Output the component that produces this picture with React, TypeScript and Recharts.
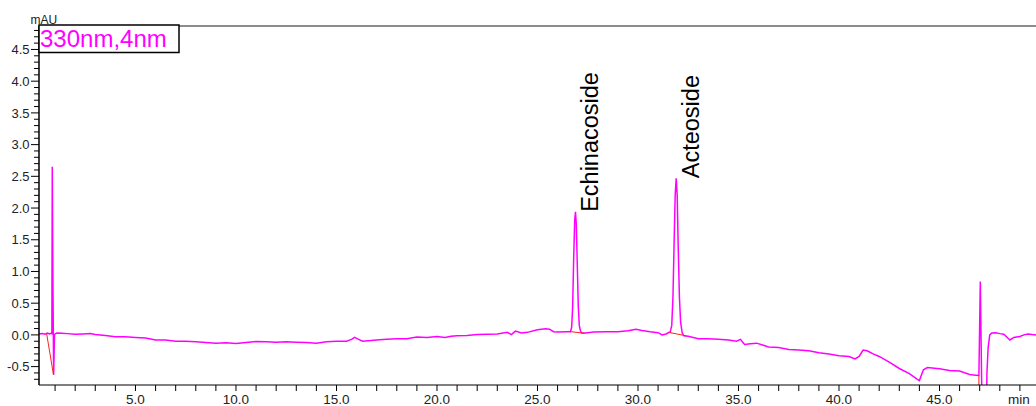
import React from 'react'
import { ComposedChart, Line, Scatter, XAxis, YAxis } from 'recharts'

// chromatogram trace, [time (min), signal (mAU)]
const baselineStart: [number, number][] = [
  [0.2, 0.015], [0.35, 0.02], [0.5, 0.01], [0.62, 0.03], [0.72, 0.015], [0.8, 0.025], [0.84, 0.02]
]
const injectionSpike: [number, number][] = [
  [0.86, 2.65], [0.89, 0.9], [0.93, -0.63], [0.97, 0.0], [1.02, 0.02]
]
const baselineEarly: [number, number][] = [
  [1.1, 0.03], [1.35, 0.025], [1.6, 0.02], [2.0, 0.01], [2.4, 0.015], [2.76, 0.02], [3.0, 0.005],
  [3.5, -0.01], [4.0, -0.03], [4.5, -0.03], [5.0, -0.04], [5.5, -0.05], [6.0, -0.08], [6.5, -0.08],
  [7.0, -0.1], [7.5, -0.1], [8.0, -0.11], [8.5, -0.12], [9.0, -0.13], [9.5, -0.125], [10.0, -0.135],
  [10.5, -0.12], [11.0, -0.105], [11.5, -0.11], [12.0, -0.115], [12.5, -0.11], [13.0, -0.115],
  [13.5, -0.12], [14.0, -0.13], [14.5, -0.11], [15.0, -0.1], [15.5, -0.1], [15.75, -0.07], [15.9, -0.04],
  [16.1, -0.07], [16.3, -0.1], [16.7, -0.09], [17.0, -0.08], [17.5, -0.07], [18.0, -0.06], [18.5, -0.06],
  [19.0, -0.035], [19.5, -0.04], [20.0, -0.025], [20.4, -0.04], [20.7, -0.02], [21.0, -0.015],
  [21.5, -0.01], [22.0, 0.005], [22.5, 0.01], [23.0, 0.015], [23.5, 0.04], [23.7, 0.005], [23.9, 0.06],
  [24.2, 0.03], [24.5, 0.04], [25.0, 0.08], [25.4, 0.095], [25.6, 0.09], [25.8, 0.05], [26.0, 0.045],
  [26.4, 0.05], [26.6, 0.05]
]
const echinacosidePeak: [number, number][] = [
  [26.64, 0.05], [26.7, 0.12], [26.75, 0.45], [26.8, 1.2], [26.85, 1.8], [26.89, 1.94], [26.93, 1.75],
  [26.98, 1.1], [27.03, 0.45], [27.08, 0.15], [27.14, 0.06], [27.2, 0.03]
]
const baselineMiddle: [number, number][] = [
  [27.4, 0.03], [27.8, 0.045], [28.4, 0.05], [29.0, 0.05], [29.5, 0.065], [29.9, 0.09], [30.2, 0.07],
  [30.6, 0.05], [31.0, 0.035], [31.2, 0.0], [31.4, 0.015], [31.55, 0.04]
]
const acteosidePeak: [number, number][] = [
  [31.6, 0.04], [31.68, 0.15], [31.74, 0.6], [31.8, 1.5], [31.85, 2.2], [31.9, 2.47], [31.95, 2.2],
  [32.0, 1.4], [32.06, 0.6], [32.12, 0.2], [32.2, 0.03], [32.28, -0.015]
]
const baselineLate: [number, number][] = [
  [32.5, -0.02], [33.0, -0.06], [33.5, -0.06], [34.0, -0.07], [34.5, -0.08], [34.9, -0.1], [35.1, -0.07],
  [35.3, -0.15], [35.6, -0.14], [35.9, -0.13], [36.2, -0.16], [36.5, -0.19], [37.0, -0.2], [37.5, -0.23],
  [38.0, -0.24], [38.5, -0.25], [39.0, -0.28], [39.5, -0.3], [40.0, -0.33], [40.5, -0.34], [40.8, -0.38],
  [41.0, -0.34], [41.2, -0.24], [41.4, -0.25], [41.7, -0.3], [42.0, -0.34], [42.5, -0.43], [43.0, -0.53],
  [43.5, -0.61], [43.9, -0.7], [44.0, -0.72], [44.2, -0.55], [44.4, -0.515], [45.0, -0.535],
  [45.5, -0.56], [46.0, -0.57], [46.5, -0.625], [46.8, -0.635], [46.96, -0.64]
]
const gradientSpike: [number, number][] = [
  [47.03, 0.84], [47.1, -0.8], [47.15, -1.5], [47.32, -1.5], [47.36, -0.6], [47.42, -0.2], [47.5, 0.0],
  [47.6, 0.03]
]
const baselineEnd: [number, number][] = [
  [47.8, 0.035], [48.0, 0.02], [48.2, 0.01], [48.4, -0.05], [48.5, -0.08], [48.7, -0.04], [49.0, -0.025],
  [49.2, 0.0], [49.4, 0.015], [49.6, 0.005], [49.8, 0.0], [50.0, 0.01]
]

// integration baselines (red)
const redInjection: [number, number][] = [[0.58, 0.02], [0.92, -0.63]]
const redEchinacoside: [number, number][] = [[26.55, 0.055], [27.35, 0.025]]
const redActeoside: [number, number][] = [[31.53, 0.04], [32.4, -0.015]]
const redGradient: [number, number][] = [[46.85, -0.64], [46.96, -0.64], [46.96, -0.8]]

const peakNames = ['Echinacoside', 'Acteoside']
const peakTimes = [26.89, 31.9]
const peakHeights = [1.94, 2.47]

const xTicks = Array.from({ length: 49 }, (_, i) => i + 1)
const yTicks = Array.from({ length: 56 }, (_, i) => Math.round((-0.7 + i * 0.1) * 10) / 10)

const toPts = (arr: [number, number][]) => arr.map(([t, v]) => ({ t, v }))

const trace = toPts([
  ...baselineStart, ...injectionSpike, ...baselineEarly, ...echinacosidePeak, ...baselineMiddle,
  ...acteosidePeak, ...baselineLate, ...gradientSpike, ...baselineEnd
])
const redSegments = [redInjection, redEchinacoside, redActeoside, redGradient].map(toPts)
const peakLabels = peakNames.map((name, i) => ({ t: peakTimes[i], v: peakHeights[i], name }))

const FONT = '"Liberation Sans", Arial, sans-serif'

const YTick = (props: any) => {
  const { x, y, payload } = props
  const v = payload.value as number
  const major = Math.abs(Math.round(v * 10)) % 5 === 0
  return (
    <g>
      <line x1={x - (major ? 8 : 5)} x2={x} y1={y} y2={y} stroke="#000" strokeWidth={1} />
      {major && (
        <text x={x - 9.5} y={y} dy="0.36em" textAnchor="end" fontSize={13} fill="#222" fontFamily={FONT}>
          {v.toFixed(1)}
        </text>
      )}
    </g>
  )
}

const PeakLabel = (props: any) => {
  const { cx, cy, payload } = props
  const x = cx + 23
  return (
    <text x={x} y={cy} transform={`rotate(-90 ${x} ${cy})`} fontSize={23.5} fill="#000" fontFamily={FONT}>
      {payload.name}
    </text>
  )
}

export default function App() {
  return (
    <div style={{ position: 'absolute', left: 0, top: 0, width: 1036, height: 406, overflow: 'hidden', background: '#fff', fontFamily: FONT }}>
      <ComposedChart width={1040} height={406} margin={{ top: 26, right: 0, bottom: 0, left: 0 }}>
        <XAxis
          type="number"
          dataKey="t"
          domain={[0.2, 50]}
          allowDataOverflow
          ticks={xTicks}
          interval={0}
          tickFormatter={(v: number) => (v % 5 === 0 && v < 50 ? v.toFixed(1) : '')}
          tickSize={6}
          tickMargin={3}
          height={21}
          stroke="#000"
          tick={{ fontSize: 13.5, fill: '#222' }}
        />
        <YAxis
          type="number"
          domain={[-0.79, 4.87]}
          allowDataOverflow
          ticks={yTicks}
          interval={0}
          width={39}
          tickLine={false}
          tickSize={0}
          tickMargin={0}
          axisLine={{ stroke: '#000', strokeWidth: 1.5 }}
          tick={<YTick />}
        />
        <Line
          data={trace}
          dataKey="v"
          type="linear"
          stroke="#ff00ff"
          strokeWidth={1.5}
          dot={false}
          activeDot={false}
          isAnimationActive={false}
        />
        {redSegments.map((seg, i) => (
          <Line
            key={i}
            data={seg}
            dataKey="v"
            type="linear"
            stroke="#ff2020"
            strokeWidth={1}
            dot={false}
            activeDot={false}
            isAnimationActive={false}
          />
        ))}
        <Scatter data={peakLabels} dataKey="v" shape={<PeakLabel />} isAnimationActive={false} />
      </ComposedChart>
      <svg width={1036} height={406} style={{ position: 'absolute', left: 0, top: 0, pointerEvents: 'none' }}>
        <line x1={39} x2={1036} y1={26} y2={26} stroke="#666" strokeWidth={1.5} />
        <text x={30.5} y={23.5} fontSize={12} fill="#222" fontFamily={FONT}>mAU</text>
        <rect x={39} y={25} width={140} height={27.5} fill="#fff" stroke="#000" strokeWidth={1.5} />
        <text x={40} y={46.5} fontSize={24} fill="#ff00ff" fontFamily={FONT}>330nm,4nm</text>
        <text x={1008} y={403.5} fontSize={13.5} fill="#222" fontFamily={FONT}>min</text>
      </svg>
    </div>
  )
}
